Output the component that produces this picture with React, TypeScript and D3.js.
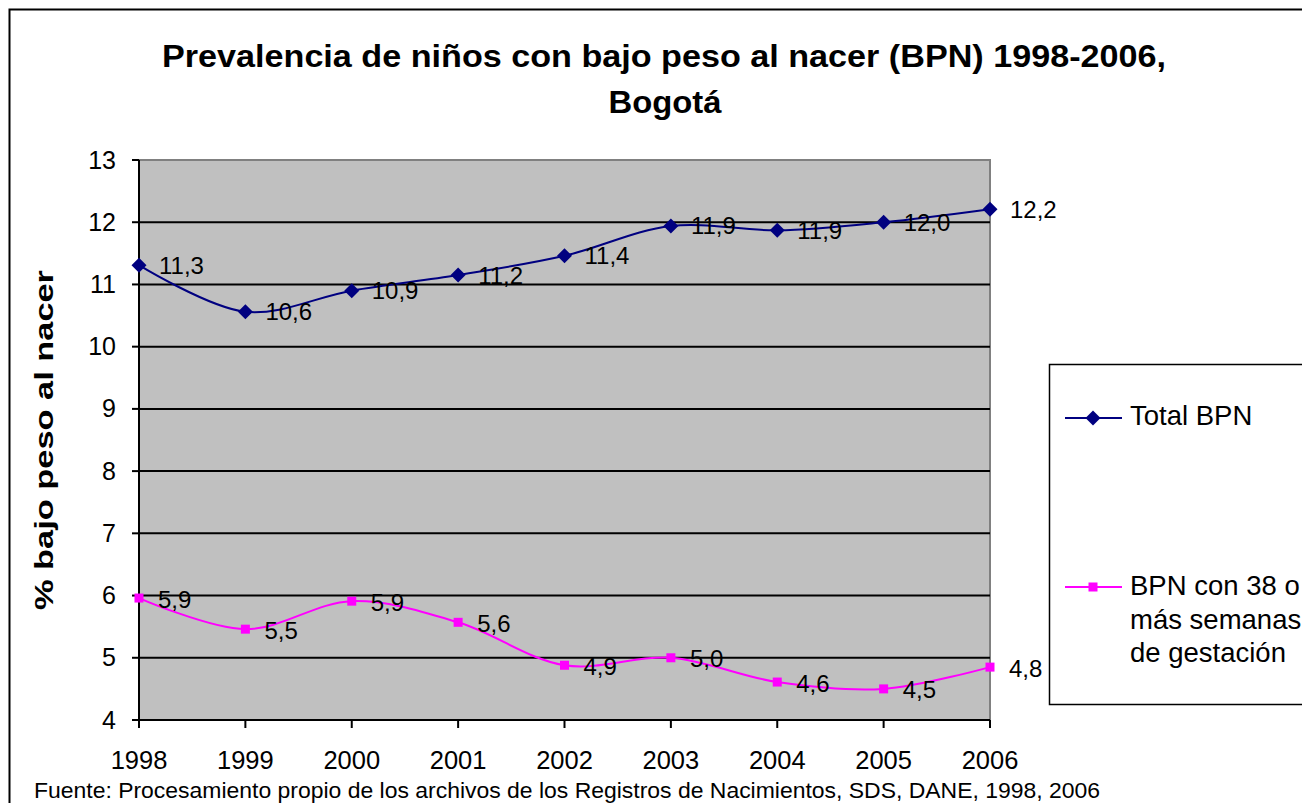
import React from "react";
import * as d3 from "d3";

const years = [1998, 1999, 2000, 2001, 2002, 2003, 2004, 2005, 2006];
const totalBPN = [11.31, 10.56, 10.9, 11.15, 11.46, 11.94, 11.87, 12.0, 12.21];
const totalLabels = ["11,3", "10,6", "10,9", "11,2", "11,4", "11,9", "11,9", "12,0", "12,2"];
const bpn38 = [5.96, 5.46, 5.91, 5.57, 4.88, 5.0, 4.61, 4.5, 4.85];
const bpn38Labels = ["5,9", "5,5", "5,9", "5,6", "4,9", "5,0", "4,6", "4,5", "4,8"];
const yTicks = [4, 5, 6, 7, 8, 9, 10, 11, 12, 13];
const legendLines2 = ["BPN con 38 o", "más semanas", "de gestación"];

const W = 1302;
const H = 803;
const left = 139;
const right = 990;
const top = 160;
const bottom = 720;
const FONT = "Arial, 'Liberation Sans', sans-serif";
const NAVY = "#000080";
const MAGENTA = "#FF00FF";

export default function App() {
  const x = d3.scalePoint<number>().domain(years).range([left, right]);
  const y = d3.scaleLinear().domain([4, 13]).range([bottom, top]);
  const line = d3
    .line<number>()
    .x((_, i) => x(years[i]) as number)
    .y((d) => y(d))
    .curve(d3.curveCatmullRom.alpha(0.5));

  const diamond = (cx: number, cy: number, r: number) =>
    `M${cx},${cy - r}L${cx + r},${cy}L${cx},${cy + r}L${cx - r},${cy}Z`;

  return (
    <svg
      width={W}
      height={H}
      style={{ position: "absolute", left: 0, top: 0, background: "#fff" }}
      fontFamily={FONT}
    >
      <rect x={0} y={0} width={W} height={H} fill="#fff" />
      <rect x={9.5} y={9.5} width={1400} height={900} fill="none" stroke="#000" strokeWidth={2} />
      <text x={664} y={67} textAnchor="middle" fontSize={31} fontWeight="bold" textLength={1004} lengthAdjust="spacingAndGlyphs">
        Prevalencia de niños con bajo peso al nacer (BPN) 1998-2006,
      </text>
      <text x={665} y={113} textAnchor="middle" fontSize={31} fontWeight="bold" textLength={113} lengthAdjust="spacingAndGlyphs">
        Bogotá
      </text>

      {/* plot area */}
      <rect x={left} y={top} width={right - left} height={bottom - top} fill="#C0C0C0" stroke="#808080" strokeWidth={2} />
      {yTicks.slice(1, -1).map((t) => (
        <line key={t} x1={left} x2={right} y1={y(t)} y2={y(t)} stroke="#000" strokeWidth={2} />
      ))}
      <line x1={left} x2={left} y1={top} y2={bottom} stroke="#000" strokeWidth={2} />
      <line x1={left} x2={right} y1={bottom} y2={bottom} stroke="#000" strokeWidth={2} />
      {yTicks.map((t) => (
        <g key={t}>
          <line x1={left - 7} x2={left} y1={y(t)} y2={y(t)} stroke="#000" strokeWidth={2} />
          <text x={116} y={y(t) + 8.5} textAnchor="end" fontSize={25}>
            {t}
          </text>
        </g>
      ))}
      {years.map((yr) => (
        <g key={yr}>
          <line x1={x(yr)} x2={x(yr)} y1={bottom} y2={bottom + 8} stroke="#000" strokeWidth={2} />
          <text x={x(yr)} y={bottom + 49} textAnchor="middle" fontSize={25.5}>
            {yr}
          </text>
        </g>
      ))}

      <text
        transform={`translate(53, 440) rotate(-90)`}
        textAnchor="middle"
        fontSize={26}
        fontWeight="bold"
        textLength={340}
        lengthAdjust="spacingAndGlyphs"
      >
        % bajo peso al nacer
      </text>

      {/* series */}
      <path d={line(totalBPN) || ""} fill="none" stroke={NAVY} strokeWidth={2} />
      <path d={line(bpn38) || ""} fill="none" stroke={MAGENTA} strokeWidth={2} />
      {totalBPN.map((v, i) => (
        <path key={"d" + i} d={diamond(x(years[i]) as number, y(v), 7.5)} fill={NAVY} />
      ))}
      {bpn38.map((v, i) => (
        <rect key={"s" + i} x={(x(years[i]) as number) - 4.5} y={y(v) - 4.5} width={9} height={9} fill={MAGENTA} />
      ))}
      {totalBPN.map((v, i) => (
        <text key={"tl" + i} x={(x(years[i]) as number) + 20} y={y(v) + 8.5} fontSize={24}>
          {totalLabels[i]}
        </text>
      ))}
      {bpn38.map((v, i) => (
        <text key={"bl" + i} x={(x(years[i]) as number) + 19} y={y(v) + 9.5} fontSize={24}>
          {bpn38Labels[i]}
        </text>
      ))}

      {/* legend */}
      <rect x={1049.5} y={364.5} width={300} height={340} fill="#fff" stroke="#000" strokeWidth={1.5} />
      <line x1={1065} x2={1122} y1={418} y2={418} stroke={NAVY} strokeWidth={2} />
      <path d={diamond(1093, 418, 7.5)} fill={NAVY} />
      <text x={1130} y={425} fontSize={27.5}>Total BPN</text>
      <line x1={1065} x2={1122} y1={587} y2={587} stroke={MAGENTA} strokeWidth={2} />
      <rect x={1088.5} y={582.5} width={9} height={9} fill={MAGENTA} />
      {legendLines2.map((t, i) => (
        <text key={t} x={1130} y={595 + i * 33.5} fontSize={27.5}>
          {t}
        </text>
      ))}

      <text x={34} y={798} fontSize={21.5} textLength={1066} lengthAdjust="spacingAndGlyphs">
        Fuente: Procesamiento propio de los archivos de los Registros de Nacimientos, SDS, DANE, 1998, 2006
      </text>
    </svg>
  );
}
